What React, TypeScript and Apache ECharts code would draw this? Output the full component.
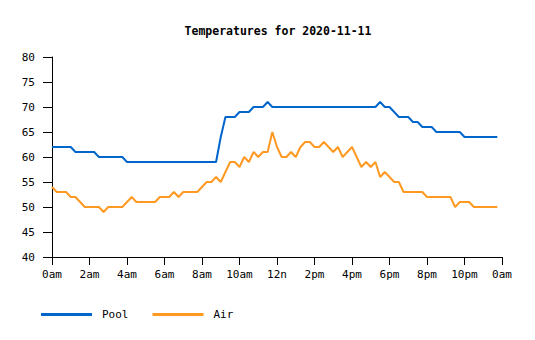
import React, { useEffect, useRef } from "react";
import * as echarts from "echarts";

const title = "Temperatures for 2020-11-11";
const seriesNames = ["Pool", "Air"];
const xTickLabels = ["0am", "2am", "4am", "6am", "8am", "10am", "12n", "2pm", "4pm", "6pm", "8pm", "10pm", "0am"];
// samples every 15 minutes, starting 00:00
const sampleStepHours = 0.25;
const poolValues = [
  62, 62, 62, 62, 62, 61, 61, 61, 61, 61,
  60, 60, 60, 60, 60, 60,
  59, 59, 59, 59, 59, 59, 59, 59, 59, 59, 59, 59, 59, 59, 59, 59, 59, 59, 59, 59,
  64, 68, 68, 68, 69, 69, 69, 70, 70, 70, 71,
  70, 70, 70, 70, 70, 70, 70, 70, 70, 70, 70, 70, 70, 70, 70, 70, 70, 70, 70, 70, 70, 70, 70,
  71, 70, 70, 69, 68, 68, 68, 67, 67, 66, 66, 66,
  65, 65, 65, 65, 65, 65, 64, 64, 64, 64, 64, 64, 64, 64,
];
const airValues = [
  54, 53, 53, 53, 52, 52, 51, 50, 50, 50,
  50, 49, 50, 50, 50, 50, 51, 52, 51, 51,
  51, 51, 51, 52, 52, 52, 53, 52, 53, 53,
  53, 53, 54, 55, 55, 56, 55, 57, 59, 59,
  58, 60, 59, 61, 60, 61, 61, 65, 62, 60,
  60, 61, 60, 62, 63, 63, 62, 62, 63, 62,
  61, 62, 60, 61, 62, 60, 58, 59, 58, 59,
  56, 57, 56, 55, 55, 53, 53, 53, 53, 53,
  52, 52, 52, 52, 52, 52, 50, 51, 51, 51,
  50, 50, 50, 50, 50, 50,
];
const yMin = 40;
const yMax = 80;
const yInterval = 5;

const toPairs = (vals: number[]) => vals.map((v, i) => [i * sampleStepHours, v]);

export default function App() {
  const ref = useRef<HTMLDivElement>(null);
  useEffect(() => {
    if (!ref.current) return;
    const chart = echarts.init(ref.current, null, { renderer: "svg" });
    const font = "DejaVu Sans Mono";
    chart.setOption({
      animation: false,
      backgroundColor: "#ffffff",
      title: {
        text: title,
        left: 278,
        textAlign: "center",
        top: 25,
        padding: 0,
        textStyle: { fontFamily: font, fontSize: 11.5, fontWeight: "bold", color: "#000" },
      },
      legend: {
        left: 41,
        top: 309,
        padding: 0,
        itemWidth: 51,
        itemHeight: 3,
        itemGap: 24,
        icon: "rect",
        textStyle: { fontFamily: font, fontSize: 11, color: "#000", padding: [3, 0, 0, 5] },
        data: seriesNames,
      },
      grid: { left: 52, right: 33, top: 57, bottom: 83, containLabel: false },
      xAxis: {
        type: "value",
        min: 0,
        max: 24,
        interval: 2,
        axisLine: { show: true, lineStyle: { color: "#000", width: 1 } },
        axisTick: { show: true, length: 8, lineStyle: { color: "#000" } },
        splitLine: { show: false },
        axisLabel: {
          margin: 12,
          fontFamily: font,
          fontSize: 11,
          color: "#000",
          showMinLabel: true,
          showMaxLabel: true,
          formatter: (v: number) => xTickLabels[Math.round(v / 2)] ?? "",
        },
      },
      yAxis: {
        type: "value",
        min: yMin,
        max: yMax,
        interval: yInterval,
        axisLine: { show: true, lineStyle: { color: "#000", width: 1 } },
        axisTick: { show: true, length: 9, lineStyle: { color: "#000" } },
        splitLine: { show: false },
        axisLabel: { margin: 17, fontFamily: font, fontSize: 11, color: "#000" },
      },
      series: [
        {
          name: seriesNames[0],
          type: "line",
          data: toPairs(poolValues),
          showSymbol: false,
          symbol: "none",
          lineStyle: { color: "#0066cc", width: 2 },
          itemStyle: { color: "#0066cc" },
        },
        {
          name: seriesNames[1],
          type: "line",
          data: toPairs(airValues),
          showSymbol: false,
          symbol: "none",
          lineStyle: { color: "#ff9922", width: 2 },
          itemStyle: { color: "#ff9922" },
        },
      ],
    });
    return () => chart.dispose();
  }, []);
  return <div ref={ref} style={{ width: 535, height: 340, position: "absolute", left: 0, top: 0 }} />;
}
